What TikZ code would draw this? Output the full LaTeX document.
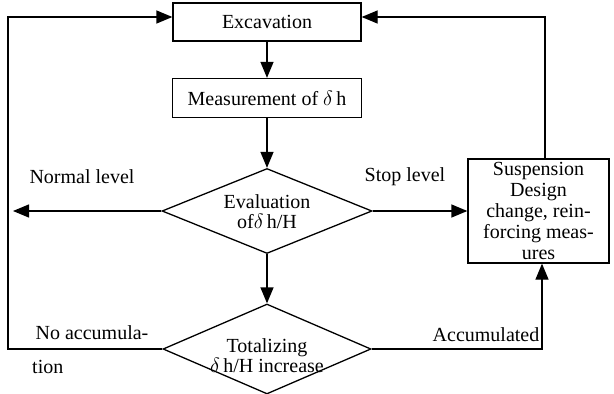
\documentclass[tikz,border=0pt]{standalone}
\usepackage{fontspec}
\setmainfont{Liberation Serif}
\usepackage{tikz}
\usetikzlibrary{arrows.meta}
\usetikzlibrary{positioning}
\usetikzlibrary{shapes.geometric}

\tikzset{
  flowbox/.style={draw,rectangle,line width=1.3pt,inner sep=0pt},
  decision/.style={draw,diamond,line width=1.3pt,inner sep=0pt,aspect=2.4},
  flowline/.style={line width=1.3pt},
  flowarrow/.style={line width=1.3pt,-{Triangle[length=16pt,width=13pt]}},
  flowtext/.style={font=\fontsize{20}{20}\selectfont,align=center},
}

\begin{document}
\begin{tikzpicture}[x=1pt,y=-1pt]
        \useasboundingbox (0,0) rectangle (614,394);
        
        % boxes
        \node[flowbox,flowtext,minimum width=188pt,minimum height=38pt] (exc) at (267,22) {Excavation};
        \node[flowbox,flowtext,minimum width=189pt,minimum height=39pt] (meas) at (267,98) {Measurement of $\delta$\,h};
        \node[decision,minimum width=210pt,minimum height=85pt] (eval) at (267,211) {};
        \node[flowtext] (evaltext) at (267,212) {Evaluation\\of$\delta$\,h/H};
        \node[decision,minimum width=208pt,minimum height=90pt] (total) at (267,349) {};
        \node[flowtext] (totaltext) at (267,356) {Totalizing\\$\delta$\,h/H increase};
        \node[flowbox,flowtext,minimum width=141pt,minimum height=104pt,font=\fontsize{20}{21}\selectfont] (susp) at (538.5,211) {Suspension\\Design\\change, rein-\\forcing meas-\\ures};
        
        % turning points
        \coordinate (normal) at (13,211);
        \coordinate (accum) at (542,349);
        \coordinate (back) at (545,17);
        \coordinate (loop) at (8,17);
        
        \draw[flowarrow] (exc) -- (meas);
        \draw[flowarrow] (meas.south) -- (eval.north);
        \draw[flowarrow] (eval.south) -- (total.north);
        \draw[flowarrow] (eval.west) -- (normal);
        \draw[flowarrow] (eval.east) -- (susp.west);
        \draw[flowarrow] (total.east) -- (accum) -- (accum |- susp.south);
        \draw[flowarrow] (total.west) -- (loop |- total.west) -- (loop) -- (loop -| exc.west);
        \draw[flowarrow] (back |- susp.north) -- (back) -- (back -| exc.east);
        
        % labels
        \node[flowtext] (lnormal) at (82,177) {Normal level};
        \node[flowtext] (lstop) at (405,177) {Stop level};
        \node[flowtext] (lnoacc) at (92,333) {No accumula-};
        \node[flowtext,anchor=west,inner sep=0pt] (ltion) at (32,367) {tion};
        \node[flowtext] (lacc) at (486,335) {Accumulated};
        
\end{tikzpicture}
\end{document}
